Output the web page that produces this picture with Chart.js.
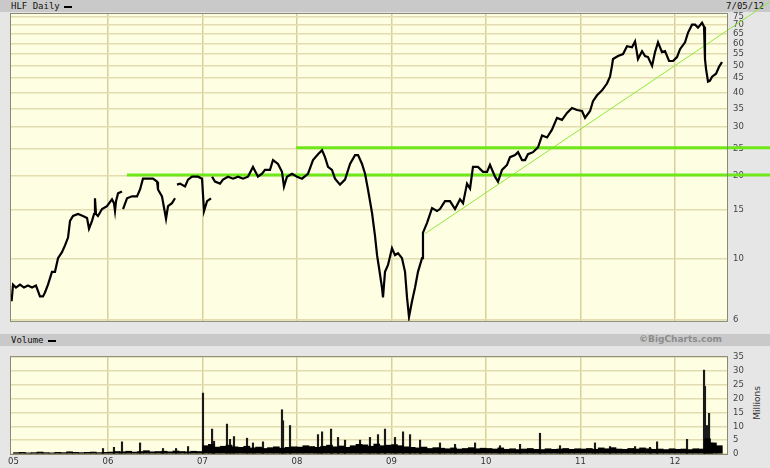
<!DOCTYPE html>
<html>
<head>
<meta charset="utf-8">
<script src="https://cdn.jsdelivr.net/npm/chart.js@4.4.0/dist/chart.umd.min.js"></script>
<style>
  body { margin: 0; width: 770px; height: 468px; background: #e6e6e6; position: relative; overflow: hidden; }
  canvas { position: absolute; left: 0; z-index: 2; }
  .bar { position: absolute; left: 0; width: 770px; height: 12px; background: #c9c9c9; font: 9px "DejaVu Sans Mono", monospace; color: #111; line-height: 12px; z-index: 1; }
  .bar span.sw { display: inline-block; width: 8px; height: 2px; background: #000; vertical-align: middle; margin-left: 4px; }
  #date { position: absolute; right: 6px; top: 0; }
  #credit { position: absolute; right: 48px; top: 0; font: bold 9px "DejaVu Sans", sans-serif; color: #8c8c8c; }
  #millions { position: absolute; left: 732px; top: 398px; width: 50px; text-align: center; transform: rotate(-90deg); font: 9px "DejaVu Sans", sans-serif; color: #333; }
</style>
</head>
<body>
<div class="bar" style="top:0"><span style="margin-left:11px">HLF Daily</span><span class="sw"></span><span id="date">7/05/12</span></div>
<div class="bar" style="top:334px"><span style="margin-left:11px">Volume</span><span class="sw"></span><span id="credit">©BigCharts.com</span></div>
<div id="millions">Millions</div>
<canvas id="price" width="770" height="332" style="top:0"></canvas>
<canvas id="volume" width="770" height="122" style="top:346px"></canvas>
<script>
// price (decimal year, dollars); null = gap in the feed
const priceYears = [
  2004.98, 2004.995, 2005.026, 2005.069, 2005.111, 2005.153, 2005.196, 2005.238, 2005.280, 2005.312,
  2005.333, 2005.365, 2005.407, 2005.439, 2005.471, 2005.513, 2005.545, 2005.577, 2005.598, 2005.630,
  2005.683, 2005.735, 2005.778, 2005.799, 2005.831, 2005.852, 2005.862, 2005.873, 2005.894, 2005.937,
  2005.989, 2006.042, 2006.063, 2006.074, 2006.085, 2006.106, 2006.148, 2006.153, 2006.159, 2006.201,
  2006.254, 2006.307, 2006.339, 2006.370, 2006.413, 2006.444, 2006.476, 2006.519, 2006.529, 2006.571,
  2006.603, 2006.614, 2006.635, 2006.677, 2006.709, 2006.720, 2006.730, 2006.762, 2006.815, 2006.847,
  2006.889, 2006.952, 2006.995, 2007.016, 2007.048, 2007.090, 2007.095, 2007.101, 2007.132, 2007.185,
  2007.217, 2007.270, 2007.323, 2007.376, 2007.429, 2007.481, 2007.534, 2007.587, 2007.630, 2007.661,
  2007.714, 2007.746, 2007.799, 2007.841, 2007.862, 2007.894, 2007.947, 2008.000, 2008.053, 2008.116,
  2008.169, 2008.222, 2008.265, 2008.296, 2008.328, 2008.370, 2008.402, 2008.455, 2008.508, 2008.561,
  2008.614, 2008.646, 2008.688, 2008.720, 2008.751, 2008.794, 2008.825, 2008.847, 2008.868, 2008.899,
  2008.910, 2008.931, 2008.963, 2009.005, 2009.037, 2009.069, 2009.111, 2009.143, 2009.164, 2009.185,
  2009.217, 2009.249, 2009.280, 2009.323, 2009.333, 2009.376, 2009.429, 2009.481, 2009.513, 2009.566,
  2009.619, 2009.672, 2009.725, 2009.757, 2009.799, 2009.831, 2009.862, 2009.915, 2009.968, 2010.011,
  2010.042, 2010.095, 2010.127, 2010.169, 2010.222, 2010.254, 2010.307, 2010.339, 2010.381, 2010.413,
  2010.444, 2010.497, 2010.550, 2010.593, 2010.646, 2010.698, 2010.751, 2010.804, 2010.857, 2010.910,
  2010.963, 2011.016, 2011.048, 2011.101, 2011.132, 2011.175, 2011.228, 2011.280, 2011.312, 2011.333,
  2011.344, 2011.397, 2011.450, 2011.492, 2011.545, 2011.577, 2011.608, 2011.651, 2011.683, 2011.714,
  2011.757, 2011.788, 2011.820, 2011.862, 2011.894, 2011.937, 2011.979, 2012.021, 2012.053, 2012.106,
  2012.138, 2012.180, 2012.212, 2012.243, 2012.286, 2012.307, 2012.317, 2012.328, 2012.349, 2012.370,
  2012.392, 2012.434, 2012.466, 2012.497
];
const priceValues = [
  7.01, 8.05, 7.86, 8.05, 7.86, 7.99, 7.86, 7.99, 7.30, 7.30,
  7.54, 8.05, 8.96, 8.96, 10.04, 10.55, 11.17, 11.92, 13.70, 14.27,
  14.51, 14.27, 14.04, 12.84, 13.70, 14.51, 16.54, 14.51, 14.27, 15.12,
  15.49, 16.40, 15.88, 14.87, 16.14, 17.23, 17.51, null, 15.12, 16.54,
  16.81, 16.81, 17.80, 19.48, 19.48, 19.48, 19.48, 19.00, 17.80, 16.81,
  14.63, 13.93, 15.49, 15.88, 16.54, null, 18.54, 18.69, 18.24, 19.32,
  19.80, 19.80, 19.48, 14.87, 16.14, 16.54, null, 19.80, 19.00, 18.69,
  19.32, 19.80, 19.48, 19.80, 19.48, 19.80, 21.48, 19.80, 20.29, 20.96,
  20.96, 22.75, 22.02, 20.62, 18.24, 19.80, 20.29, 19.80, 19.48, 20.29,
  22.75, 23.89, 24.69, 23.31, 21.48, 20.96, 19.48, 18.54, 19.32, 22.02,
  23.70, 23.70, 22.02, 20.29, 17.80, 14.63, 12.12, 10.29, 9.25, 7.86,
  7.24, 8.96, 9.49, 10.90, 10.29, 10.46, 10.04, 8.96, 7.24, 6.15,
  7.01, 7.86, 8.96, 10.04, 12.42, 13.48, 15.24, 14.87, 15.12, 16.14,
  16.14, 15.12, 16.40, 15.88, 18.69, 17.95, 21.48, 21.48, 20.62, 20.62,
  21.84, 19.80, 19.00, 20.96, 21.84, 23.31, 23.70, 24.29, 22.75, 22.75,
  23.89, 24.29, 25.30, 27.91, 27.46, 29.31, 32.33, 31.81, 33.69, 35.09,
  34.52, 34.24, 32.33, 34.24, 37.16, 39.03, 40.66, 43.05, 45.58, 49.87,
  52.81, 54.13, 55.02, 58.74, 58.26, 61.19, 52.81, 56.38, 54.13, 53.68,
  49.87, 55.92, 60.69, 55.92, 56.38, 51.95, 51.95, 53.68, 57.32, 60.69,
  65.85, 70.31, 70.31, 68.61, 71.47, 69.17, 52.81, 48.66, 43.76, 44.12,
  45.58, 46.72, 49.46, 51.54
];

// drawn trend lines (year, price at each end)
const supportYears = [2006.20, 2013.1];
const supportValues = [20.1, 20.1];
const resistYears = [2007.99, 2013.1];
const resistValues = [25.2, 25.2];
const trendYears = [2009.355, 2013.0];
const trendValues = [12.32, 84.9];

const priceTicks = [6, 10, 15, 20, 25, 30, 35, 40, 45, 50, 55, 60, 65, 70, 75];
const yearTicks = [2005, 2006, 2007, 2008, 2009, 2010, 2011, 2012];
const volumeTicks = [0, 5, 10, 15, 20, 25, 30, 35];

// typical daily volume (millions), 16 buckets per year from Jan 2005
const baseVolume = [
  0.5, 0.6, 0.4, 0.5, 0.7, 0.5, 0.4, 0.6, 0.5, 0.8, 0.6, 0.5, 0.6, 0.7, 0.5, 0.6,
  0.7, 0.9, 0.8, 1.0, 0.7, 0.9, 1.2, 0.8, 0.9, 1.0, 0.8, 1.1, 0.9, 0.8, 1.0, 0.9,
  3.0, 3.5, 2.5, 2.8, 3.2, 2.6, 2.4, 2.8, 2.2, 2.5, 2.0, 2.3, 2.6, 2.1, 2.4, 2.6,
  2.5, 3.0, 2.7, 2.4, 2.8, 3.2, 2.6, 2.9, 2.4, 3.0, 3.5, 3.3, 2.8, 3.6, 3.0, 3.2,
  3.4, 3.0, 2.6, 2.4, 2.2, 2.5, 2.0, 2.3, 2.1, 1.9, 2.2, 1.8, 2.0, 2.3, 1.9, 2.1,
  2.0, 1.8, 2.2, 1.7, 1.9, 1.6, 1.8, 2.0, 1.7, 1.6, 1.9, 1.7, 1.8, 2.0, 1.7, 1.9,
  1.8, 2.0, 1.7, 2.2, 1.9, 2.3, 1.8, 1.7, 2.0, 1.8, 2.2, 1.9, 1.7, 1.8, 1.6, 1.9,
  1.7, 1.8, 1.6, 1.9, 1.8, 5.5, 4.0, 3.0
];
// single-day volume spikes
const spikeYears = [
  2005.947, 2006.063, 2006.148, 2006.339, 2006.582, 2006.720, 2006.847, 2007.005, 2007.101, 2007.122,
  2007.259, 2007.291, 2007.333, 2007.471, 2007.534, 2007.640, 2007.841, 2007.852, 2007.926, 2008.222,
  2008.265, 2008.360, 2008.434, 2008.508, 2008.667, 2008.772, 2008.857, 2008.931, 2009.037, 2009.122,
  2009.196, 2009.302, 2009.513, 2009.672, 2009.884, 2010.148, 2010.360, 2010.571, 2010.783, 2011.153,
  2011.312, 2011.577, 2011.735, 2011.810, 2012.127, 2012.307, 2012.317, 2012.339, 2012.360, 2012.392
];
const spikeVolume = [
  2.0, 2.4, 4.4, 4.0, 2.0, 2.0, 2.7, 22.0, 9.0, 4.6,
  10.8, 5.3, 6.3, 5.7, 4.0, 4.4, 16.0, 12.0, 10.3, 7.0,
  8.0, 9.0, 6.0, 5.0, 5.0, 6.0, 7.0, 9.0, 6.0, 8.0,
  7.0, 5.0, 4.0, 3.5, 4.0, 3.0, 3.5, 7.5, 3.0, 4.0,
  2.7, 2.7, 2.4, 4.4, 5.3, 30.3, 24.4, 10.3, 14.7, 4.0
];

const xMin = 2004.9735, xMax = 2012.55;
const hGrid = '#e2dcb0';
const vGrid = '#d8d09c';
const tickFont = { family: 'DejaVu Sans', size: 8.5 };

const pts = (xs, ys) => xs.map((x, i) => ({ x: x, y: ys[i] }));

const plotBg = {
  id: 'plotBg',
  beforeDraw(chart) {
    const { ctx, chartArea: a } = chart;
    ctx.save();
    ctx.fillStyle = '#fefee2';
    ctx.fillRect(a.left, a.top, a.right - a.left, a.bottom - a.top);
    ctx.restore();
  },
  afterDraw(chart) {
    const { ctx, chartArea: a } = chart;
    ctx.save();
    ctx.strokeStyle = '#8a8a70';
    ctx.lineWidth = 1;
    ctx.strokeRect(a.left - 0.5, a.top - 0.5, a.right - a.left + 1, a.bottom - a.top + 1);
    ctx.restore();
  }
};

const xScale = (showLabels) => ({
  type: 'linear', min: xMin, max: xMax, offset: false,
  afterBuildTicks: s => { s.ticks = yearTicks.map(v => ({ value: v })); },
  ticks: {
    display: showLabels, autoSkip: false, maxRotation: 0, padding: 3,
    font: tickFont, color: '#333',
    callback: v => String(v).slice(2)
  },
  grid: {
    offset: false,
    color: c => (c.tick && c.tick.value === 2005) ? 'rgba(0,0,0,0)' : vGrid,
    lineWidth: 1.5, drawTicks: false
  },
  border: { display: false },
  afterFit: s => { s.height = showLabels ? 14 : 0; }
});

new Chart(document.getElementById('price'), {
  type: 'line',
  data: {
    datasets: [
      { data: pts(priceYears, priceValues), borderColor: '#000', borderWidth: 2.2, pointRadius: 0, spanGaps: false },
      { data: pts(supportYears, supportValues), borderColor: '#6fe81a', borderWidth: 3, pointRadius: 0, clip: false },
      { data: pts(resistYears, resistValues), borderColor: '#6fe81a', borderWidth: 3, pointRadius: 0, clip: false },
      { data: pts(trendYears, trendValues), borderColor: '#8fe83a', borderWidth: 1, pointRadius: 0, clip: false }
    ]
  },
  options: {
    responsive: false, animation: false,
    layout: { padding: { left: 11, top: 14, bottom: 5, right: 0 } },
    plugins: { legend: { display: false }, tooltip: { enabled: false } },
    scales: {
      x: xScale(false),
      y: {
        type: 'logarithmic', position: 'right', min: 5.951, max: 76.86,
        afterBuildTicks: s => { s.ticks = priceTicks.map(v => ({ value: v })); },
        ticks: { autoSkip: false, padding: 6, font: tickFont, color: '#444', callback: v => String(v) },
        grid: { color: hGrid, lineWidth: 1.5, drawTicks: false },
        border: { display: false },
        afterFit: s => { s.width = 43; }
      }
    }
  },
  plugins: [plotBg]
});

new Chart(document.getElementById('volume'), {
  type: 'bar',
  data: {
    datasets: [
      { data: baseVolume.map((v, i) => ({ x: 2005 + (i + 0.5) / 16, y: v })), backgroundColor: '#000', barThickness: 6, grouped: false },
      { data: pts(spikeYears, spikeVolume), backgroundColor: '#1a1a1a', barThickness: 1.5, grouped: false }
    ]
  },
  options: {
    responsive: false, animation: false,
    layout: { padding: { left: 11, top: 3, bottom: 0, right: 0 } },
    plugins: { legend: { display: false }, tooltip: { enabled: false } },
    scales: {
      x: xScale(true),
      y: {
        position: 'right', min: 0, max: 35,
        afterBuildTicks: s => { s.ticks = volumeTicks.map(v => ({ value: v })); },
        ticks: { autoSkip: false, padding: 6, font: tickFont, color: '#444' },
        grid: { color: hGrid, lineWidth: 1.5, drawTicks: false },
        border: { display: false },
        afterFit: s => { s.width = 43; }
      }
    }
  },
  plugins: [plotBg]
});
</script>
</body>
</html>
